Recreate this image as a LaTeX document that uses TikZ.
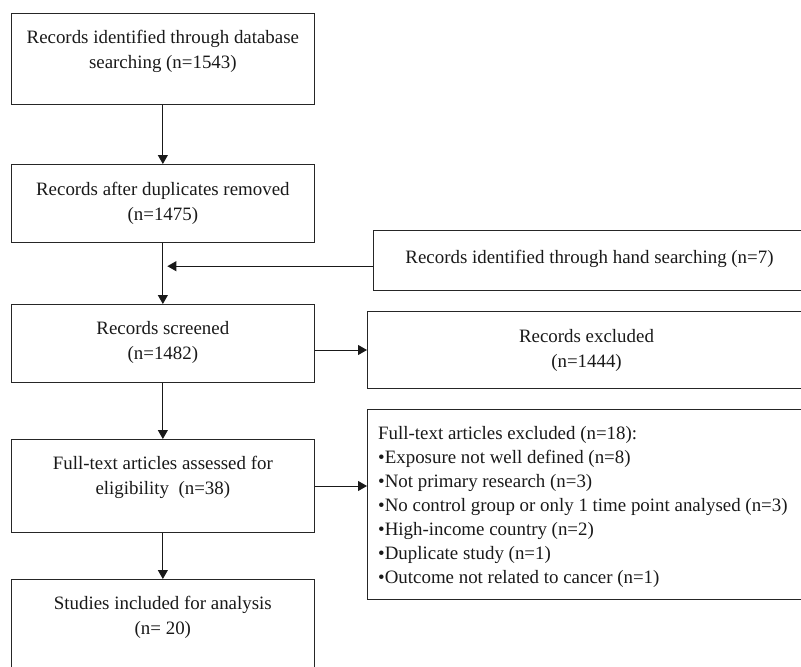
\documentclass[tikz,border=0pt]{standalone}
\usepackage{fontspec}
\setmainfont{Liberation Serif}
\usetikzlibrary{arrows.meta,calc}
\begin{document}
\begin{tikzpicture}[x=1pt,y=-1pt,
 box/.style={draw=black!85,line width=1pt,inner sep=0pt,anchor=north west},
 txt/.style={font=\fontsize{18.9}{25}\selectfont,align=center,anchor=base,inner sep=0pt,text=black!90},
 conn/.style={draw=black!90,line width=1pt,-{Triangle[length=9pt,width=10pt]}}]
\useasboundingbox (0,0) rectangle (801,667);
\clip (0,0) rectangle (801,667);
% boxes
\node[box,minimum width=303.3,minimum height=91.3] (b1) at (10.7,12.7) {};
\node[box,minimum width=303.3,minimum height=77.7] (b2) at (10.7,164) {};
\node[box,minimum width=432,minimum height=60] (hand) at (373,230) {};
\node[box,minimum width=303.3,minimum height=78] (b3) at (10.7,304) {};
\node[box,minimum width=438,minimum height=77] (excl) at (367,311) {};
\node[box,minimum width=303.3,minimum height=93] (b4) at (10.7,439) {};
\node[box,minimum width=438,minimum height=190] (excl18) at (367,409) {};
\node[box,minimum width=303.3,minimum height=101] (b5) at (10.7,579) {};
% texts (base anchor = baseline of the last line)
\node[txt] (t1) at ($(b1.north)+(0,55.5)$) {Records identified through database\\searching (n=1543)};
\node[txt] (t2) at ($(b2.north)+(0,56)$) {Records after duplicates removed\\(n=1475)};
\node[txt] (th) at ($(hand.north)+(0,33.5)$) {Records identified through hand searching (n=7)};
\node[txt] (t3) at ($(b3.north)+(0,55.5)$) {Records screened\\(n=1482)};
\node[txt] (te) at ($(excl.north)+(0,56)$) {Records excluded\\(n=1444)};
\node[txt] (t4) at ($(b4.north)+(0,55.5)$) {Full-text articles assessed for\\eligibility\ \ (n=38)};
\node[txt] (t5) at ($(b5.north)+(0,55.5)$) {Studies included for analysis\\(n= 20)};
\node[txt,align=left,anchor=base west,font=\fontsize{18.9}{24}\selectfont] (t18) at ($(excl18.north west)+(11,174.5)$) {Full-text articles excluded (n=18):\\
•Exposure not well defined (n=8)\\
•Not primary research (n=3)\\
•No control group or only 1 time point analysed (n=3)\\
•High-income country (n=2)\\
•Duplicate study (n=1)\\
•Outcome not related to cancer (n=1)};
% connectors
\draw[conn] (b1.south) -- (b2.north);
\draw[conn] (b2.south) -- (b3.north);
\coordinate (hm) at ($(hand.west)+(0,5.7)$);
\coordinate (hj) at ($(b2.south)+(4.5,0)$);
\draw[conn] (hm) -- (hm -| hj);
\draw[conn] (b3.east |- excl.west) -- (excl.west);
\draw[conn] (b3.south) -- (b4.north);
\draw[conn] (b4.east) -- (b4.east -| excl18.west);
\draw[conn] (b4.south) -- (b5.north);
\end{tikzpicture}
\end{document}
